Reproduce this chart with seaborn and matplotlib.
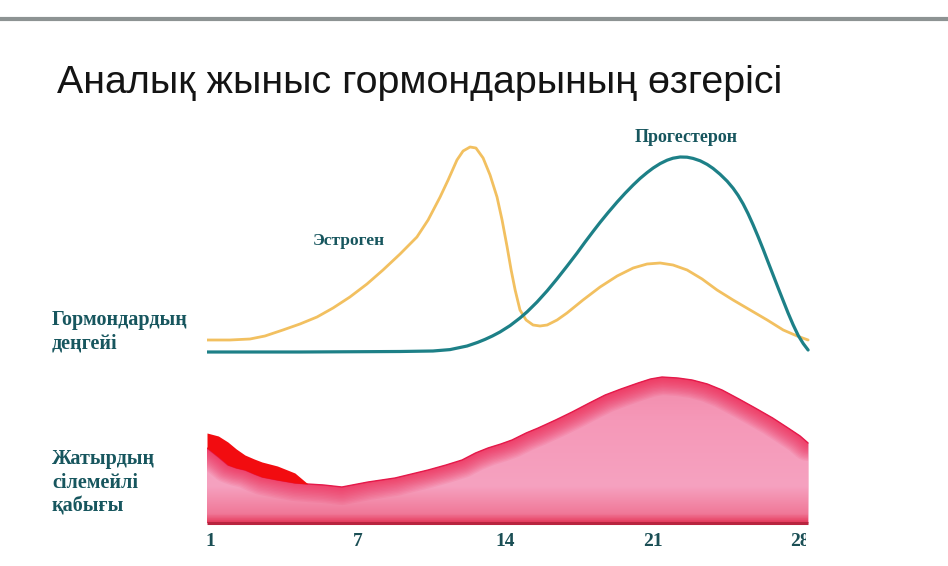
import numpy as np
import matplotlib
matplotlib.use("Agg")
import matplotlib.pyplot as plt
import seaborn as sns
from matplotlib.lines import Line2D
from matplotlib.patches import Rectangle
from matplotlib.colors import LinearSegmentedColormap

# Data (day of cycle, relative level)
estrogen_day = [-0.14, 0.95, 1.9, 2.61, 3.46, 4.27, 5.08, 5.84, 6.64, 7.45, 8.21, 9.02,
                9.82, 10.35, 10.92, 11.3, 11.72, 12.01, 12.34, 12.62, 12.96, 13.29,
                13.62, 13.86, 14.1, 14.29, 14.48, 14.71, 15.0, 15.33, 15.66, 16.0,
                16.47, 16.94, 17.7, 18.51, 19.32, 20.08, 20.74, 21.36, 21.97, 22.64,
                23.35, 24.06, 24.82, 25.63, 26.44, 27.2, 27.86, 28.38]
estrogen_level = [6, 6, 6.5, 8, 11, 14, 17.5, 22, 27.5, 34, 41, 49,
                  57.5, 66, 77.5, 86, 96, 100.5, 102.5, 102, 97, 88.5,
                  77.5, 66, 52.5, 41, 31, 21, 16, 13.5, 13, 13.5,
                  16, 19.5, 26, 32.5, 38, 42, 44, 44.5, 43.5, 41,
                  36.5, 31, 26, 21, 16, 11, 8, 6]

progesterone_day = [-0.14, 4.27, 9.02, 10.58, 11.39, 12.2, 12.7, 13.05, 13.4, 13.76,
                    14.24, 14.71, 15.05, 15.52, 16.0, 16.47, 16.94, 17.42, 17.8, 18.18,
                    18.51, 18.89, 19.32, 19.7, 20.08, 20.41, 20.74, 21.03, 21.36, 21.69,
                    21.97, 22.31, 22.64, 22.92, 23.26, 23.59, 23.87, 24.2, 24.54, 24.82,
                    25.06, 25.3, 25.53, 25.77, 26.01, 26.25, 26.48, 26.72, 26.96, 27.2,
                    27.43, 27.67, 27.91, 28.15, 28.38]
progesterone_level = [0, 0, 0.25, 0.5, 1.2, 3.0, 4.8, 6.3, 8.0, 10.0,
                      13.2, 17.0, 20.1, 25.0, 30.6, 36.6, 42.9, 49.5, 55.0, 60.3,
                      64.8, 69.7, 75.0, 79.4, 83.5, 86.8, 89.7, 92.0, 94.2, 95.9,
                      96.9, 97.5, 97.4, 96.8, 95.6, 93.8, 91.8, 88.9, 85.4, 81.9,
                      78.3, 74.0, 69.2, 63.6, 57.6, 51.3, 45.0, 38.5, 32.0, 25.6,
                      19.5, 13.6, 8.3, 4.2, 1.0]

# endometrium thickness
endo_day = [-0.14, 0.4, 0.85, 1.25, 1.66, 2.1, 2.47, 3.2, 4.03, 4.65, 5.4, 6.26, 7.5,
            8.78, 10.35, 11.2, 11.96, 12.6, 13.19, 13.8, 14.33, 15.0, 15.57, 16.4,
            17.18, 18.0, 18.75, 19.5, 20.31, 20.9, 21.45, 22.2, 22.88, 23.6, 24.3,
            25.1, 25.87, 26.7, 27.43, 28.0, 28.38]
endo_top = [37.5, 33, 29, 27.5, 26.5, 24.5, 23, 21.5, 20, 19.5, 19, 18, 20.5,
            22.5, 26.5, 29, 31.5, 35, 37.5, 39.5, 41.5, 45, 47.5, 51.5,
            55.5, 60, 64, 67, 70, 72, 73, 72.5, 71.5, 69.5, 66.5,
            62, 57.5, 52.5, 47.5, 43.5, 40]

# menstrual layer on top of it (first days)
blood_day = [-0.14, 0.4, 0.85, 1.25, 1.66, 2.1, 2.47, 3.2, 4.03, 4.65]
blood_top = [45, 43.5, 40.5, 37, 34, 32, 30.5, 28.5, 25, 19.5]
blood_base = [37.5, 33, 29, 27.5, 26.5, 24.5, 23, 21.5, 20, 19.5]

tick_pos = [0, 7, 14, 21, 28]
tick_labels = ['1', '7', '14', '21', '28']

title = 'Аналық жыныс гормондарының өзгерісі'
label_estrogen = 'Эстроген'
label_progesterone = 'Прогестерон'
label_hormones = 'Гормондардың\nдеңгейі'
label_endo = 'Жатырдың\nсілемейлі\nқабығы'

sns.set_theme(style='white')
plt.rcParams['font.family'] = ['Liberation Serif', 'DejaVu Sans']

W, H = 948, 566
fig = plt.figure(figsize=(W / 100, H / 100), dpi=100)


def px(x, y):
    return x / W, 1 - y / H


text_col = '#17565e'

# top rule
fig.add_artist(Line2D([0, 1], [1 - 19 / H] * 2, transform=fig.transFigure,
                      color='#8d9393', lw=3))
fig.text(*px(57, 83), title, fontsize=28.4, family=['Liberation Sans', 'DejaVu Sans'],
         color='#141414', ha='left', va='center')

xlim = (-0.14, 28.47)

# hormone curves
ax_h = fig.add_axes([207 / W, 1 - 360 / H, 603 / W, 230 / H])
sns.lineplot(x=estrogen_day, y=estrogen_level, ax=ax_h, color='#f2c060', lw=2.0)
sns.lineplot(x=progesterone_day, y=progesterone_level, ax=ax_h, color='#1d8087', lw=2.3)
ax_h.set_xlim(*xlim)
ax_h.set_ylim(-4, 111)
ax_h.axis('off')

# endometrium
ax_e = fig.add_axes([207 / W, 1 - 526 / H, 603 / W, 161 / H])
ax_e.set_xlim(*xlim)
ax_e.set_ylim(-1.5, 79)
poly = ax_e.fill_between(endo_day, 0, endo_top, color='#f5a0bd', lw=0)
clip = poly.get_paths()[0]

cmap = LinearSegmentedColormap.from_list(
    'endo', [(0, '#e63a5b'), (0.06, '#f07898'), (0.25, '#f6a2c0'),
             (0.7, '#f598b8'), (1, '#f28aaa')])
grad = np.linspace(0, 1, 200).reshape(-1, 1)
im = ax_e.imshow(grad, extent=[xlim[0], xlim[1], 0, 74], origin='lower',
                 aspect='auto', cmap=cmap, zorder=2)
im.set_clip_path(clip, ax_e.transData)

# soft red rim along the upper edge
for lw in range(26, 1, -2):
    edge, = ax_e.plot(endo_day, endo_top, color='#ee1a48', lw=lw, alpha=0.08,
                      solid_joinstyle='round', zorder=3)
    edge.set_clip_path(clip, ax_e.transData)
sns.lineplot(x=endo_day, y=endo_top, ax=ax_e, color='#e5194a', lw=1.0, zorder=4)

ax_e.fill_between(blood_day, blood_base, blood_top, color='#f20c10', lw=0, zorder=5)
ax_e.hlines(0, endo_day[0], endo_day[-1], color='#b8243f', lw=2.2, zorder=6)

for s in ax_e.spines.values():
    s.set_visible(False)
ax_e.set_yticks([])
ax_e.set_xticks(tick_pos)
ax_e.set_xticklabels(tick_labels)
ax_e.tick_params(axis='x', length=0, pad=5, labelsize=14, labelcolor='#1b4f55')
for lab in ax_e.get_xticklabels():
    lab.set_fontweight('bold')

# the last label is cut off at the picture's edge
fig.add_artist(Rectangle(px(806, 560), 40 / W, 30 / H, transform=fig.transFigure,
                         facecolor='white', edgecolor='none', zorder=10))

# labels
fig.text(*px(686, 138), label_progesterone, fontsize=13, fontweight='bold',
         color=text_col, ha='center', va='center')
fig.text(*px(349, 241), label_estrogen, fontsize=12.5, fontweight='bold',
         color=text_col, ha='center', va='center')
fig.text(*px(52, 332), label_hormones, fontsize=14.5, fontweight='bold',
         color=text_col, ha='left', va='center', linespacing=1.25)
fig.text(*px(52, 483), label_endo, fontsize=14.5, fontweight='bold',
         color=text_col, ha='left', va='center', linespacing=1.25)

fig.savefig('out.png', dpi=100)
